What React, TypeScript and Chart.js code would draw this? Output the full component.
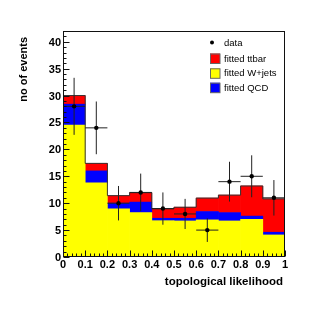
import React, { useEffect, useRef } from 'react';
import { Chart, registerables } from 'chart.js';

Chart.register(...registerables);

// ---- data ----
const binEdges = [0, 0.1, 0.2, 0.3, 0.4, 0.5, 0.6, 0.7, 0.8, 0.9, 1.0];
const wjets = [24.5, 13.8, 8.95, 8.25, 6.75, 6.7, 6.9, 6.7, 7.0, 4.1];
const qcd = [3.9, 2.2, 1.05, 1.95, 0.45, 0.5, 1.55, 1.55, 0.6, 0.5];
const ttbar = [1.6, 1.4, 1.4, 1.75, 1.75, 2.05, 2.5, 3.25, 5.6, 6.2];
const dataCounts = [28, 24, 10, 12, 9, 8, 5, 14, 15, 11];
const dataErr = [5.3, 4.9, 3.2, 3.5, 3.0, 2.8, 2.2, 3.7, 3.9, 3.3];

const xTickValues = [0, 0.1, 0.2, 0.3, 0.4, 0.5, 0.6, 0.7, 0.8, 0.9, 1];
const xTickLabels = ['0', '0.1', '0.2', '0.3', '0.4', '0.5', '0.6', '0.7', '0.8', '0.9', '1'];
const yTickValues = [0, 5, 10, 15, 20, 25, 30, 35, 40];
const yTickLabels = ['0', '5', '10', '15', '20', '25', '30', '35', '40'];

const xTitle = 'topological likelihood';
const yTitle = 'no of events';
const legendLabels = ['data', 'fitted ttbar', 'fitted W+jets', 'fitted QCD'];

const Y_MAX = 42;
const COLORS = { ttbar: '#ff0000', wjets: '#ffff00', qcd: '#0000ff' };

const centers = binEdges.slice(0, -1).map((e, i) => (e + binEdges[i + 1]) / 2);
const totals = wjets.map((w, i) => w + qcd[i] + ttbar[i]);

const BOLD = 'bold 11px "Liberation Sans", Arial, Helvetica, sans-serif';

const errorBarPlugin = {
  id: 'errorBars',
  beforeDatasetDraw(chart: any, args: any) {
    if (args.index !== 0) return;
    const { ctx, scales } = chart;
    const x = scales.x, y = scales.y;
    ctx.save();
    ctx.strokeStyle = '#222';
    ctx.lineWidth = 1;
    ctx.beginPath();
    dataCounts.forEach((v, i) => {
      const cx = x.getPixelForValue(centers[i]);
      const cy = y.getPixelForValue(v);
      ctx.moveTo(cx, y.getPixelForValue(v - dataErr[i]));
      ctx.lineTo(cx, y.getPixelForValue(v + dataErr[i]));
      ctx.moveTo(x.getPixelForValue(binEdges[i]), cy);
      ctx.lineTo(x.getPixelForValue(binEdges[i + 1]), cy);
    });
    ctx.stroke();
    ctx.restore();
  },
};

const axesPlugin = {
  id: 'rootAxes',
  afterDraw(chart: any) {
    const { ctx, chartArea: a, scales } = chart;
    const x = scales.x, y = scales.y;
    ctx.save();
    ctx.strokeStyle = '#111';
    ctx.lineWidth = 1;
    const L = Math.round(a.left) + 0.5;
    const R = Math.round(a.right) - 0.5;
    const T = Math.round(a.top) + 0.5;
    const B = Math.round(a.bottom) - 0.5;
    ctx.strokeRect(L, T, R - L, B - T);

    // ticks (inward)
    ctx.beginPath();
    for (let v = 0; v <= 1.0001; v += 0.02) {
      const px = Math.round(x.getPixelForValue(v)) + 0.5;
      const major = Math.abs(v * 10 - Math.round(v * 10)) < 1e-6;
      const len = major ? 6 : 3;
      ctx.moveTo(px, B);
      ctx.lineTo(px, B - len);
    }
    for (let v = 0; v <= Y_MAX; v += 1) {
      const py = Math.round(y.getPixelForValue(v)) + 0.5;
      const len = v % 5 === 0 ? 6 : 3;
      ctx.moveTo(L, py);
      ctx.lineTo(L + len, py);
    }
    ctx.stroke();

    // tick labels
    ctx.fillStyle = '#000';
    ctx.font = BOLD;
    ctx.textAlign = 'center';
    ctx.textBaseline = 'alphabetic';
    xTickValues.forEach((v, i) => {
      ctx.fillText(xTickLabels[i], x.getPixelForValue(v), 268);
    });
    ctx.textAlign = 'right';
    yTickValues.forEach((v, i) => {
      ctx.fillText(yTickLabels[i], 61, y.getPixelForValue(v) + 4);
    });

    // axis titles
    ctx.font = 'bold 11.5px "Liberation Sans", Arial, Helvetica, sans-serif';
    ctx.textAlign = 'right';
    ctx.fillText(xTitle, 283, 285);
    ctx.save();
    ctx.translate(26.5, 37);
    ctx.rotate(-Math.PI / 2);
    ctx.font = BOLD;
    ctx.textAlign = 'right';
    ctx.fillText(yTitle, 0, 0);
    ctx.restore();

    // legend
    ctx.font = '9.5px "Liberation Sans", Arial, Helvetica, sans-serif';
    ctx.textAlign = 'left';
    ctx.textBaseline = 'middle';
    const rows = [42.5, 58.5, 73.3, 87.7];
    const fills = [null, COLORS.ttbar, COLORS.wjets, COLORS.qcd];
    legendLabels.forEach((lab, i) => {
      const ry = rows[i];
      if (fills[i] === null) {
        ctx.beginPath();
        ctx.fillStyle = '#000';
        ctx.arc(212, ry, 2, 0, Math.PI * 2);
        ctx.fill();
      } else {
        ctx.fillStyle = fills[i] as string;
        ctx.fillRect(210, ry - 5, 10, 10);
        ctx.strokeStyle = '#666';
        ctx.strokeRect(210.5, ry - 4.5, 9.5, 9.5);
      }
      ctx.fillStyle = '#000';
      ctx.fillText(lab, 224, ry + 0.5);
    });
    ctx.restore();
  },
};

export default function App() {
  const ref = useRef<HTMLCanvasElement | null>(null);

  useEffect(() => {
    if (!ref.current) return;
    const barCommon = {
      type: 'bar' as const,
      grouped: false,
      barPercentage: 1,
      categoryPercentage: 1,
      borderWidth: 0,
      order: 2,
    };
    const outlineData = [
      { x: binEdges[0], y: 0 },
      ...totals.map((t, i) => ({ x: binEdges[i], y: t })),
      { x: binEdges[binEdges.length - 1], y: 0 },
    ];
    const chart = new Chart(ref.current, {
      type: 'bar',
      data: {
        datasets: [
          {
            type: 'line',
            label: 'data',
            data: dataCounts.map((v, i) => ({ x: centers[i], y: v })),
            showLine: false,
            pointRadius: 2.2,
            pointBackgroundColor: '#000',
            pointBorderColor: '#000',
            pointBorderWidth: 0,
            order: 0,
          } as any,
          {
            type: 'line',
            label: 'outline',
            data: outlineData,
            stepped: 'before',
            pointRadius: 0,
            borderWidth: 1,
            borderColor: '#333',
            fill: false,
            order: 1,
          } as any,
          {
            ...barCommon,
            label: 'fitted W+jets',
            data: wjets.map((w, i) => ({ x: centers[i], y: [0, w] })),
            backgroundColor: COLORS.wjets,
          } as any,
          {
            ...barCommon,
            label: 'fitted QCD',
            data: qcd.map((q, i) => ({ x: centers[i], y: [wjets[i], wjets[i] + q] })),
            backgroundColor: COLORS.qcd,
          } as any,
          {
            ...barCommon,
            label: 'fitted ttbar',
            data: ttbar.map((t, i) => ({
              x: centers[i],
              y: [wjets[i] + qcd[i], wjets[i] + qcd[i] + t],
            })),
            backgroundColor: COLORS.ttbar,
          } as any,
        ],
      },
      options: {
        responsive: false,
        animation: false,
        devicePixelRatio: 1,
        layout: { padding: { left: 63, right: 31, top: 31, bottom: 65 } },
        plugins: { legend: { display: false }, tooltip: { enabled: false } },
        scales: {
          x: { type: 'linear', min: 0, max: 1, offset: false, display: false, ticks: { stepSize: 0.1 } },
          y: { type: 'linear', min: 0, max: Y_MAX, display: false },
        },
      } as any,
      plugins: [errorBarPlugin, axesPlugin],
    });
    return () => chart.destroy();
  }, []);

  return (
    <div style={{ position: 'absolute', left: 0, top: 0, width: 316, height: 322, background: '#fff' }}>
      <canvas ref={ref} width={316} height={322} style={{ width: 316, height: 322, display: 'block' }} />
    </div>
  );
}
